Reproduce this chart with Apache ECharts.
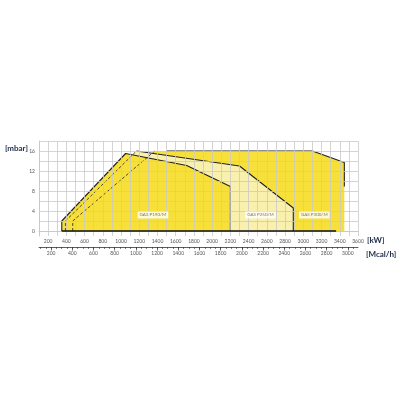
<!DOCTYPE html>
<html><head><meta charset="utf-8">
<script src="https://cdn.jsdelivr.net/npm/echarts@6/dist/echarts.min.js"></script>
<style>html,body{margin:0;padding:0;background:#fff}#c{width:400px;height:400px}</style>
</head><body><div id="c"></div>
<script>
// Working fields (kW, mbar)
const p190 = [[350,0],[350,2],[1050,15.5],[1720,13.1],[2200,8.9],[2200,0]];
const p250 = [[390,0],[390,2],[1170,16],[2300,13],[2890,4.6],[2890,0]];
const p300 = [[470,0],[470,2],[1370,16],[3100,16],[3450,13.7],[3450,0]];
const p300Edge = [[1500,16],[3100,16],[3450,13.7],[3450,8.9]];
const baseLine = [[350,0],[3360,0]];
const modelLabels = [[1350,3.2,'GAS P190/M'],[2530,3.2,'GAS P250/M'],[3120,3.2,'GAS P300/M']];
const kwLabels = [200,400,600,800,1000,1200,1400,1600,1800,2000,2200,2400,2600,2800,3000,3200,3400,3600];
const mbarLabels = [0,4,8,12,16];
const mbarGrid = [0,2,4,6,8,10,12,14,16,18];
const mcalLabels = [200,400,600,800,1000,1200,1400,1600,1800,2000,2200,2400,2600,2800,3000];
const mcalMinor = [];
for (let v = 100; v <= 3050; v += 50) mcalMinor.push(v);
const KW_MIN = 100, KW_MAX = 3600, MCAL_PER_KW = 0.86;

const YEL = '#F7E03A', PALE = '#FAF0AE', GRID = '#c9c9c9', NAVY = '#1d2a4a';
const FONT = 'Lato';
const plain = v => String(Math.round(v));

function fill(data, color, z) {
  return {type:'line', data, xAxisIndex:0, yAxisIndex:0, symbol:'none', z,
    lineStyle:{width:0, opacity:0}, areaStyle:{color, opacity:1, origin:'auto'}, silent:true};
}
function outline(data, z, dashed) {
  return {type:'line', data, xAxisIndex:0, yAxisIndex:0, symbol:'none', z,
    lineStyle:{color:'#222', width: dashed?0.8:1.1, type: dashed?[3,2]:'solid'}, silent:true};
}

const chart = echarts.init(document.getElementById('c'), null, {renderer:'canvas'});
chart.setOption({
  animation:false,
  textStyle:{fontFamily:FONT},
  grid:[
    {left:39, right:42, top:141, bottom:164},
    {left:39, right:42, top:246, height:1}
  ],
  xAxis:[
    {type:'value', gridIndex:0, min:KW_MIN, max:KW_MAX, interval:100, z:6,
      axisLine:{show:true, lineStyle:{color:GRID, width:1}},
      axisTick:{show:false},
      splitLine:{show:true, lineStyle:{color:GRID, width:0.8}},
      axisLabel:{customValues:kwLabels, formatter:plain, fontSize:5, color:'#555', margin:3, fontFamily:FONT}},
    {type:'value', gridIndex:1, min:KW_MIN*MCAL_PER_KW, max:KW_MAX*MCAL_PER_KW, position:'bottom',
      axisLine:{show:true, lineStyle:{color:'#333', width:0.8}},
      axisTick:{show:true, customValues:mcalMinor, length:2, lineStyle:{color:'#333', width:0.6}},
      splitLine:{show:false}, axisLabel:{show:false}},
    {type:'value', gridIndex:1, min:KW_MIN*MCAL_PER_KW, max:KW_MAX*MCAL_PER_KW, position:'bottom',
      axisLine:{show:false},
      axisTick:{show:true, customValues:mcalLabels, length:3.5, lineStyle:{color:'#333', width:0.7}},
      splitLine:{show:false},
      axisLabel:{customValues:mcalLabels, formatter:plain, fontSize:5, color:'#555', margin:4, fontFamily:FONT}}
  ],
  yAxis:[
    {type:'value', gridIndex:0, min:-1, max:18, z:6,
      axisLine:{show:true, lineStyle:{color:GRID, width:1}},
      axisTick:{show:false, customValues:mbarGrid},
      splitLine:{show:true, lineStyle:{color:GRID, width:0.8}},
      axisLabel:{customValues:mbarLabels, formatter:plain, fontSize:5, color:'#555', margin:4, fontFamily:FONT}},
    {type:'value', gridIndex:1, show:false, min:0, max:1}
  ],
  series:[
    fill(p300, YEL, 2),
    outline(p300Edge, 2, false),
    fill(p250, PALE, 3),
    outline(p250.slice(2), 3, false),
    fill(p190, YEL, 4),
    outline(p190, 4, false),
    outline(p250.slice(0,3), 5, true),
    outline(p300.slice(0,3), 5, true),
    {type:'line', data:baseLine, symbol:'none', z:7, lineStyle:{color:'#111', width:1.3}, silent:true},
    {type:'scatter', data:modelLabels, symbolSize:0, z:8, silent:true,
      label:{show:true, position:'inside', formatter:p=>p.value[2], fontSize:4.5, color:'#555',
        backgroundColor:'#fff', padding:[1,2], fontFamily:FONT}}
  ],
  graphic:[
    {type:'text', left:5, top:144, z:10, style:{text:'[mbar]', font:'bold 8px '+FONT, fill:NAVY}},
    {type:'text', left:367, top:236, z:10, style:{text:'[kW]', font:'bold 8px '+FONT, fill:NAVY}},
    {type:'text', left:366, top:250, z:10, style:{text:'[Mcal/h]', font:'bold 8px '+FONT, fill:NAVY}}
  ]
});
</script></body></html>
